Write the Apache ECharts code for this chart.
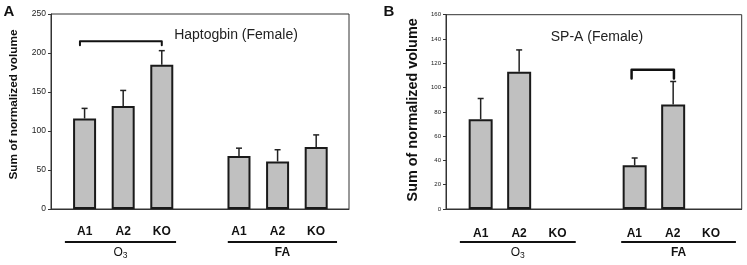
<!DOCTYPE html>
<html>
<head>
<meta charset="utf-8">
<script src="https://cdn.jsdelivr.net/npm/echarts@6/dist/echarts.min.js"></script>
<style>html,body{margin:0;padding:0;background:#fff}#c{width:747px;height:265px}</style>
</head>
<body>
<div id="c"></div>
<script>
// ---- data ----
const categories = ['A1', 'A2', 'KO', '', 'A1', 'A2', 'KO'];
const groupNames = ['O3', 'FA'];
const yTitle = 'Sum of normalized volume';
const titleA = 'Haptogbin (Female)';
const titleB = 'SP-A (Female)';
// Panel A
const posA = [1, 2, 3, 5, 6, 7];
const meanA = [116, 132, 185, 68, 61, 79.5];
const errA = [129, 152, 203, 78, 76, 95];
const bracketA = [[0.88, 210], [0.88, 215], [3.0, 215], [3.0, 210]];
const groupSpanA = [[0.49, 3.37], [4.71, 7.54]];
// Panel B
const posB = [1, 2, 5, 6];
const meanB = [74, 113, 36, 86];
const errB = [91, 131, 42, 105];
const bracketB = [[4.92, 107.5], [4.92, 114.7], [6.02, 114.7], [6.02, 107.5]];
const groupSpanB = [[0.46, 3.47], [4.65, 7.63]];

const FONT = 'Arial, "Liberation Sans", sans-serif';
const chart = echarts.init(document.getElementById('c'), null, {renderer: 'canvas'});

function pairs(xs, ys) { return xs.map((x, i) => [x, ys[i]]); }
function errData(xs, m, e) { return xs.map((x, i) => [x, m[i], e[i]]); }

function errSeries(gi, data) {
  return {
    type: 'custom', xAxisIndex: gi, yAxisIndex: gi, z: 5,
    data: data,
    renderItem: function (params, api) {
      const p0 = api.coord([api.value(0), api.value(1)]);
      const p1 = api.coord([api.value(0), api.value(2)]);
      return {
        type: 'group',
        children: [
          {type: 'line', shape: {x1: p0[0], y1: p0[1], x2: p1[0], y2: p1[1]}, style: {stroke: '#222', lineWidth: 1.5}},
          {type: 'line', shape: {x1: p1[0] - 3, y1: p1[1], x2: p1[0] + 3, y2: p1[1]}, style: {stroke: '#222', lineWidth: 1.5}}
        ]
      };
    }
  };
}

const option = {
  animation: false,
  grid: [
    {left: 51, top: 14, width: 298, height: 195, show: true, borderColor: '#333', borderWidth: 1},
    {left: 446, top: 14.7, width: 295.7, height: 194.3, show: true, borderColor: '#333', borderWidth: 1},
    {left: 65.4, top: 14, width: 270, height: 195, show: false},
    {left: 461.5, top: 14.7, width: 268.8, height: 194.3, show: false}
  ],
  xAxis: [
    {type: 'value', gridIndex: 0, min: 0.13, max: 7.85, axisLine: {show: true, lineStyle: {color: '#333'}}, axisTick: {show: false}, axisLabel: {show: false}, splitLine: {show: false}},
    {type: 'value', gridIndex: 1, min: 0.1, max: 7.78, axisLine: {show: true, lineStyle: {color: '#333'}}, axisTick: {show: false}, axisLabel: {show: false}, splitLine: {show: false}},
    {type: 'category', gridIndex: 2, data: categories, axisLine: {show: false}, axisTick: {show: false},
      axisLabel: {fontFamily: FONT, fontSize: 12, fontWeight: 'bold', color: '#111', margin: 17, interval: 0}},
    {type: 'category', gridIndex: 3, data: categories, axisLine: {show: false}, axisTick: {show: false},
      axisLabel: {fontFamily: FONT, fontSize: 12, fontWeight: 'bold', color: '#111', margin: 19, interval: 0}}
  ],
  yAxis: [
    {type: 'value', gridIndex: 0, min: 0, max: 250, interval: 50,
      name: yTitle, nameLocation: 'middle', nameGap: 31,
      nameTextStyle: {fontFamily: FONT, fontSize: 11.8, fontWeight: 'bold', color: '#111', padding: [0, 0, 0, 14]},
      axisLine: {show: true, lineStyle: {color: '#333'}}, axisTick: {show: true, length: 3, lineStyle: {color: '#333'}},
      axisLabel: {fontFamily: FONT, fontSize: 8.5, color: '#222', margin: 5}, splitLine: {show: false}},
    {type: 'value', gridIndex: 1, min: 0, max: 160, interval: 20,
      name: yTitle, nameLocation: 'middle', nameGap: 26,
      nameTextStyle: {fontFamily: FONT, fontSize: 14.4, fontWeight: 'bold', color: '#111', padding: [0, 0, 0, 4]},
      axisLine: {show: true, lineStyle: {color: '#333'}}, axisTick: {show: true, length: 3, lineStyle: {color: '#333'}},
      axisLabel: {fontFamily: FONT, fontSize: 6, color: '#222', margin: 5}, splitLine: {show: false}},
    {type: 'value', gridIndex: 2, show: false},
    {type: 'value', gridIndex: 3, show: false}
  ],
  series: [
    {type: 'bar', xAxisIndex: 0, yAxisIndex: 0, barWidth: 23, data: pairs(posA, meanA),
      itemStyle: {color: '#c0c0c0', borderColor: '#1a1a1a', borderWidth: 2}},
    errSeries(0, errData(posA, meanA, errA)),
    {type: 'line', xAxisIndex: 0, yAxisIndex: 0, data: bracketA, symbol: 'none', z: 6,
      lineStyle: {color: '#111', width: 2, join: 'round', cap: 'round'}},
    {type: 'bar', xAxisIndex: 1, yAxisIndex: 1, barWidth: 24, data: pairs(posB, meanB),
      itemStyle: {color: '#c0c0c0', borderColor: '#1a1a1a', borderWidth: 2}},
    errSeries(1, errData(posB, meanB, errB)),
    {type: 'line', xAxisIndex: 1, yAxisIndex: 1, data: bracketB, symbol: 'none', z: 6,
      lineStyle: {color: '#111', width: 2.5, join: 'round', cap: 'round'}}
  ]
};
chart.setOption(option);

function groupGraphics(gi, spans) {
  const els = [];
  spans.forEach((s, i) => {
    const x0 = chart.convertToPixel({xAxisIndex: gi}, s[0]);
    const x1 = chart.convertToPixel({xAxisIndex: gi}, s[1]);
    els.push({type: 'line', shape: {x1: x0, y1: 242, x2: x1, y2: 242}, style: {stroke: '#111', lineWidth: 2}});
    const name = groupNames[i];
    const txt = name === 'O3' ? '{n|O}{s|3}' : '{n|' + name + '}';
    els.push({type: 'text', x: (x0 + x1) / 2, y: 253,
      style: {text: txt, align: 'center', verticalAlign: 'middle',
        rich: {n: {fontFamily: FONT, fontSize: 12, fontWeight: name === 'FA' ? 'bold' : 'normal', fill: '#111'},
               s: {fontFamily: FONT, fontSize: 8.5, fill: '#111', padding: [6, 0, 0, 0]}}}});
  });
  return els;
}

const graphics = [].concat(
  groupGraphics(0, groupSpanA),
  groupGraphics(1, groupSpanB),
  [
    {type: 'text', x: 236, y: 35, style: {text: titleA, align: 'center', verticalAlign: 'middle', fontFamily: FONT, fontSize: 14, fill: '#222'}},
    {type: 'text', x: 597, y: 37, style: {text: titleB, align: 'center', verticalAlign: 'middle', fontFamily: FONT, fontSize: 14, fill: '#222'}},
    {type: 'text', x: 9, y: 12, style: {text: 'A', align: 'center', verticalAlign: 'middle', fontFamily: FONT, fontSize: 15, fontWeight: 'bold', fill: '#111'}},
    {type: 'text', x: 389, y: 12, style: {text: 'B', align: 'center', verticalAlign: 'middle', fontFamily: FONT, fontSize: 15, fontWeight: 'bold', fill: '#111'}}
  ]
);
chart.setOption({graphic: graphics});
</script>
</body>
</html>
